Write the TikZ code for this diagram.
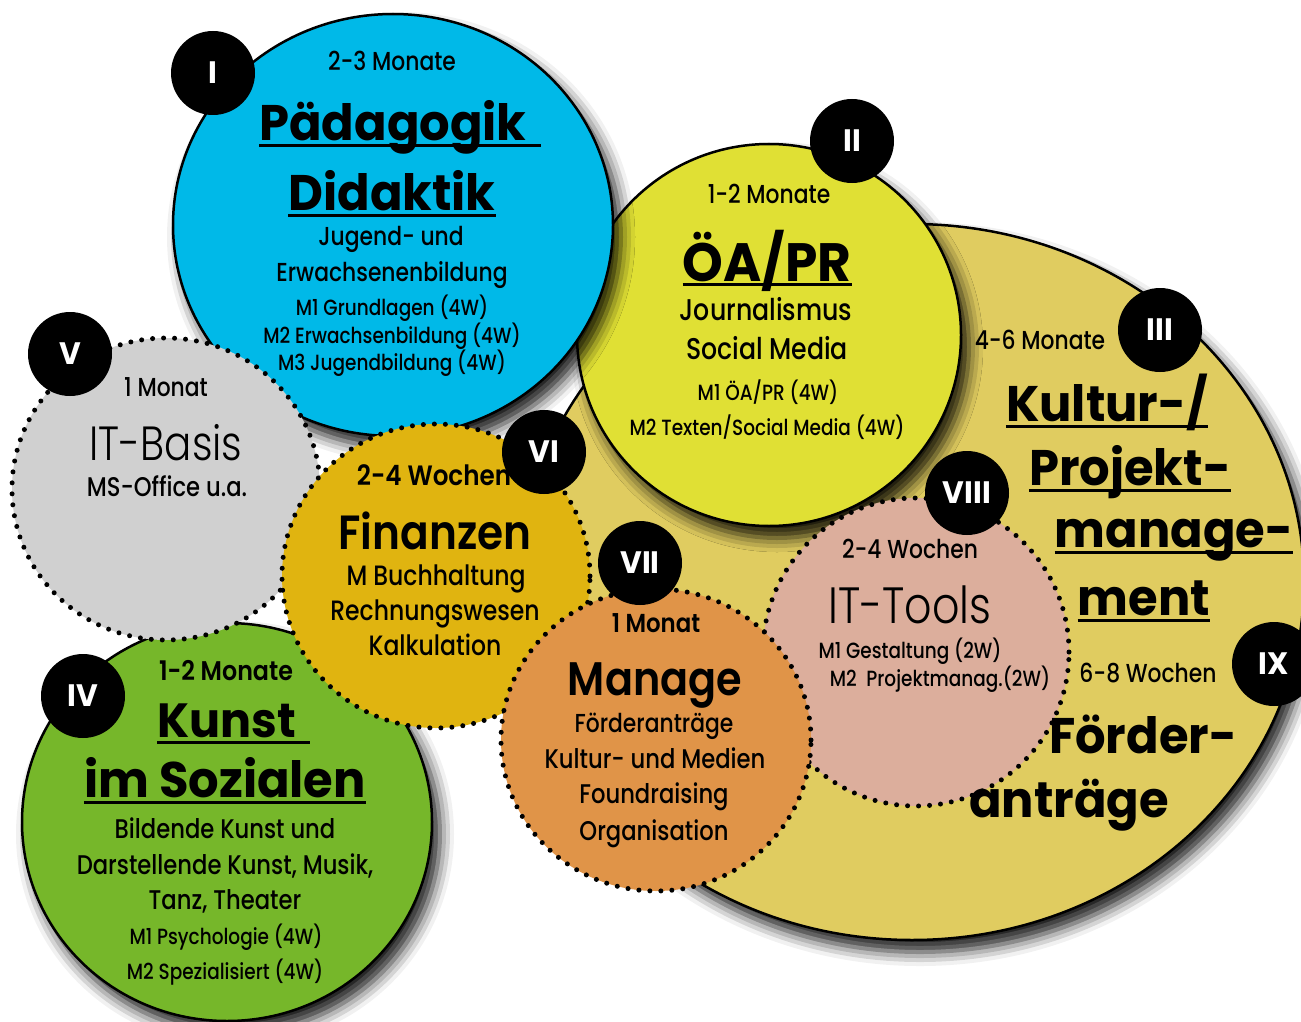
\documentclass[tikz,border=0pt]{standalone}
\usepackage{fontspec}
\setmainfont{Poppins Medium}[FakeStretch=0.84]
\newfontfamily\heavyfont{Poppins Bold}[FakeStretch=0.96]
\newfontfamily\midfont{Poppins SemiBold}[FakeStretch=0.88]
\newfontfamily\lightfont{Poppins Light}[FakeStretch=0.84]
\usetikzlibrary{shapes.geometric}
\usetikzlibrary{shadows.blur}
\newcommand{\fsz}[1]{\fontsize{#1}{#1}\selectfont}
\definecolor{bluefill}{RGB}{0,185,232}
\definecolor{lemonfill}{RGB}{224,224,52}
\definecolor{khakifill}{RGB}{224,204,96}
\definecolor{grayfill}{RGB}{208,208,208}
\definecolor{goldfill}{RGB}{224,180,16}
\definecolor{greenfill}{RGB}{118,183,42}
\definecolor{orangefill}{RGB}{224,148,72}
\definecolor{pinkfill}{RGB}{220,174,156}

\begin{document}
\begin{tikzpicture}[x=1pt, y=-1pt,
    bubble/.style={ellipse, draw, line width=2.5pt, inner sep=0pt,
      blur shadow={shadow xshift=8pt, shadow yshift=-12pt, shadow blur radius=14pt, shadow opacity=90}},
    dotbubble/.style={ellipse, draw, inner sep=0pt, line width=5pt, line cap=round, dash pattern=on 0pt off 11pt},
    badge/.style={circle, fill=black, minimum size=84pt, inner sep=0pt, text=white, font=\heavyfont\fsz{31}},
    txt/.style={anchor=base, inner sep=0pt},
    small/.style={txt, font=\fsz{22}},
    plain/.style={txt, font=\fsz{26}},
    head/.style={txt, font=\heavyfont\fsz{50}},
    uline/.style={line width=3pt}]

    \useasboundingbox (0,0) rectangle (1301,1022);

    % Draw the big bubbles with shadows
    \node[bubble, fill=khakifill, minimum width=784pt, minimum height=716pt] (kultur) at (912,582) {};
    \node[bubble, fill=lemonfill, minimum width=384pt, minimum height=382pt] (oapr) at (769,335) {};
    \node[bubble, fill=bluefill, minimum width=440pt, minimum height=422pt] (paed) at (393,225) {};
    \node[bubble, fill=greenfill, minimum width=410pt, minimum height=398pt] (kunst) at (227,822) {};

    % Draw the dotted bubbles
    \node[dotbubble, fill=grayfill, minimum width=308pt, minimum height=302pt] (itbasis) at (166,489) {};
    \node[dotbubble, fill=goldfill, minimum width=308pt, minimum height=304pt] (finanz) at (436,576) {};
    \node[dotbubble, fill=pinkfill, minimum width=306pt, minimum height=308pt] (ittools) at (916,652) {};
    \node[dotbubble, fill=orangefill, minimum width=310pt, minimum height=302pt] (manage) at (656,740) {};

    % Draw the numbers
    \node[badge] (nI) at (213,73) {I};
    \node[badge] (nII) at (852,141) {II};
    \node[badge] (nIII) at (1160,330) {III};
    \node[badge] (nIV) at (83,696) {IV};
    \node[badge] (nV) at (70,354) {V};
    \node[badge] (nVI) at (544,452) {VI};
    \node[badge] (nVII) at (640,563) {VII};
    \node[badge] (nVIII) at (967,493) {VIII};
    \node[badge] (nIX) at (1274,664) {IX};

    % Label I
    \node[plain] (paedtime) at (392,71) {2-3 Monate};
    \node[head] (paedA) at (393,141) {Pädagogik};
    \node[head] (paedB) at (392,210) {Didaktik};
    \node[plain] (paedC) at (391,245) {Jugend- und};
    \node[plain] (paedD) at (392,281) {Erwachsenenbildung};
    \node[small] (paedE) at (392,315) {M1 Grundlagen (4W)};
    \node[small] (paedF) at (392,343) {M2 Erwachsenbildung (4W)};
    \node[small] (paedG) at (392,370) {M3 Jugendbildung (4W)};
    \draw[uline] ([yshift=-5pt]paedA.base west) -- ([xshift=14pt, yshift=-5pt]paedA.base east);
    \draw[uline] ([yshift=-5pt]paedB.base west) -- ([yshift=-5pt]paedB.base east);

    % Label II
    \node[plain] (oaprtime) at (769,203) {1-2 Monate};
    \node[head, font=\heavyfont\fsz{54}] (oaprA) at (767,281) {ÖA/PR};
    \node[txt, font=\fsz{30}] (oaprB) at (766,320) {Journalismus};
    \node[txt, font=\fsz{30}] (oaprC) at (767,359) {Social Media};
    \node[small] (oaprD) at (768,400) {M1 ÖA/PR (4W)};
    \node[small] (oaprE) at (767,435) {M2 Texten/Social Media (4W)};
    \draw[uline] ([yshift=-3pt]oaprA.base west) -- ([yshift=-3pt]oaprA.base east);

    % Label III and IX
    \node[plain] (kulturtime) at (1040,349) {4-6 Monate};
    \node[head] (kulturA) at (1107,421) {Kultur-/};
    \node[head] (kulturB) at (1130,485) {Projekt-};
    \node[head] (kulturC) at (1174,547) {manage-};
    \node[head] (kulturD) at (1144,615) {ment};
    \foreach \n in {kulturA,kulturB,kulturC,kulturD}
      \draw[uline] ([yshift=-5pt]\n.base west) -- ([yshift=-5pt]\n.base east);
    \node[plain] (foerdtime) at (1148,682) {6-8 Wochen};
    \node[head] (foerdA) at (1143,753) {Förder-};
    \node[head] (foerdB) at (1069,817) {anträge};

    % Label V
    \node[plain] (itbasistime) at (166,396) {1 Monat};
    \node[txt, font=\lightfont\fsz{48}] (itbasisA) at (166,460) {IT-Basis};
    \node[txt, font=\fsz{27}] (itbasisB) at (167,496) {MS-Office u.a.};

    % Label VI
    \node[txt, font=\midfont\fsz{28}] (finanztime) at (434,485) {2-4 Wochen};
    \node[txt, font=\midfont\fsz{48}] (finanzA) at (435,549) {Finanzen};
    \node[txt, font=\fsz{28}] (finanzB) at (436,585) {M Buchhaltung};
    \node[txt, font=\fsz{28}] (finanzC) at (435,620) {Rechnungswesen};
    \node[txt, font=\fsz{28}] (finanzD) at (435,655) {Kalkulation};

    % Label IV
    \node[txt, font=\midfont\fsz{27}] (kunsttime) at (226,680) {1-2 Monate};
    \node[head, font=\heavyfont\fsz{48}] (kunstA) at (227,737) {Kunst};
    \node[head, font=\heavyfont\fsz{50}] (kunstB) at (225,797) {im Sozialen};
    \draw[uline] ([yshift=-5pt]kunstA.base west) -- ([xshift=13pt, yshift=-5pt]kunstA.base east);
    \draw[uline] ([yshift=-5pt]kunstB.base west) -- ([yshift=-5pt]kunstB.base east);
    \node[txt, font=\fsz{27}] (kunstC) at (225,838) {Bildende Kunst und};
    \node[txt, font=\fsz{27}] (kunstD) at (225,874) {Darstellende Kunst, Musik,};
    \node[txt, font=\fsz{27}] (kunstE) at (225,909) {Tanz, Theater};
    \node[small] (kunstF) at (226,944) {M1 Psychologie (4W)};
    \node[small] (kunstG) at (225,979) {M2 Spezialisiert (4W)};

    % Label VII
    \node[txt, font=\midfont\fsz{26}] (managetime) at (656,632) {1 Monat};
    \node[txt, font=\midfont\fsz{47}] (manageA) at (655,695) {Manage};
    \node[plain] (manageB) at (654,732) {Förderanträge};
    \node[txt, font=\fsz{27}] (manageC) at (655,768) {Kultur- und Medien};
    \node[txt, font=\fsz{27}] (manageD) at (654,803) {Foundraising};
    \node[txt, font=\fsz{27}] (manageE) at (654,840) {Organisation};

    % Label VIII
    \node[plain] (ittoolstime) at (910,558) {2-4 Wochen};
    \node[txt, font=\lightfont\fsz{51}] (ittoolsA) at (910,623) {IT-Tools};
    \node[small] (ittoolsB) at (910,658) {M1 Gestaltung (2W)};
    \node[small] (ittoolsC) at (940,686) {M2~~Projektmanag.(2W)};
\end{tikzpicture}
\end{document}
